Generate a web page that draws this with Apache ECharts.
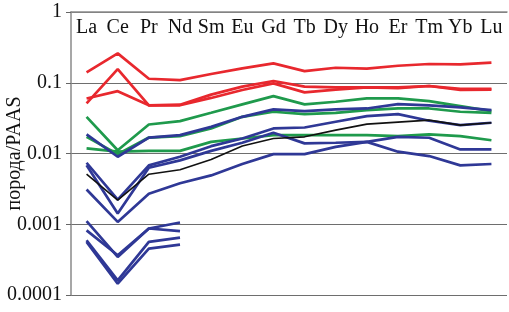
<!DOCTYPE html>
<html>
<head>
<meta charset="utf-8">
<script src="https://cdn.jsdelivr.net/npm/echarts@6/dist/echarts.min.js"></script>
<style>
  html, body { margin: 0; padding: 0; background: #fff; }
  #ReeChart { width: 509px; height: 312px; }
</style>
</head>
<body>
<div id="ReeChart"></div>
<script>
var elements = ["La", "Ce", "Pr", "Nd", "Sm", "Eu", "Gd", "Tb", "Dy", "Ho", "Er", "Tm", "Yb", "Lu"];
var yTickLabels = { 1: "1", 0.1: "0.1", 0.01: "0.01", 0.001: "0.001", 0.0001: "0.0001" };

// red samples
var red1 = [0.140, 0.260, 0.114, 0.109, 0.133, 0.160, 0.188, 0.146, 0.163, 0.158, 0.174, 0.184, 0.182, 0.192];
var red2 = [0.051, 0.156, 0.048, 0.048, 0.061, 0.079, 0.098, 0.073, 0.080, 0.086, 0.084, 0.090, 0.079, 0.080];
var red3 = [0.060, 0.076, 0.048, 0.049, 0.068, 0.088, 0.106, 0.088, 0.086, 0.086, 0.086, 0.090, 0.082, 0.082];

// green samples
var green1 = [0.033, 0.0111, 0.0257, 0.0287, 0.0376, 0.0494, 0.0648, 0.0494, 0.0539, 0.060, 0.060, 0.055, 0.0468, 0.0397];
var green2 = [0.0118, 0.0106, 0.0109, 0.0109, 0.0146, 0.0163, 0.0182, 0.0182, 0.0182, 0.0182, 0.0176, 0.0186, 0.0176, 0.0154];
var green3 = [0.0172, 0.0098, 0.0168, 0.0176, 0.0226, 0.033, 0.0389, 0.036, 0.0376, 0.041, 0.0433, 0.0433, 0.0389, 0.0376];

// blue samples
var blue1 = [0.0186, 0.0090, 0.0168, 0.0182, 0.0238, 0.033, 0.042, 0.0397, 0.042, 0.0433, 0.050, 0.048, 0.0448, 0.041];
var blue2 = [0.0074, 0.00223, 0.0068, 0.0090, 0.0127, 0.0163, 0.0226, 0.0233, 0.0281, 0.0338, 0.0360, 0.0290, 0.0252, 0.0272];
var blue3 = [0.0068, 0.00142, 0.0063, 0.0080, 0.0109, 0.0142, 0.0196, 0.0139, 0.0142, 0.0146, 0.0106, 0.0092, 0.0068, 0.0071];
var blue4 = [0.0031, 0.00108, 0.0027, 0.0038, 0.0049, 0.0071, 0.0098, 0.0098, 0.0124, 0.0146, 0.0172, 0.0167, 0.0114, 0.0114];
var blue5 = [0.00111, 0.000345, 0.00087, 0.00106];
var blue6 = [0.00082, 0.000364, 0.00087, 0.00080];
var blue7 = [0.000594, 0.000161, 0.000562, 0.000647];
var blue8 = [0.000562, 0.000145, 0.000453, 0.000516];

// black sample
var black1 = [0.0051, 0.00219, 0.0051, 0.0059, 0.0082, 0.0128, 0.0163, 0.0172, 0.0214, 0.0260, 0.0278, 0.0296, 0.0252, 0.0272];

var RED = "#e8282e", GREEN = "#1f9a4c", BLUE = "#2f3896", BLACK = "#111111";
var SERIF = "'Liberation Serif', 'Times New Roman', serif";

function line(data, color, width) {
  return {
    type: "line",
    data: data,
    symbol: "none",
    silent: true,
    lineStyle: { color: color, width: width || 2.7 }
  };
}

var chartDom = document.getElementById("ReeChart");
var myChart = echarts.init(chartDom);
var option = {
  animation: false,
  grid: { left: 71, right: 2, top: 12, bottom: 17, outerBoundsMode: "none", containLabel: false },
  xAxis: {
    type: "category",
    position: "top",
    data: elements,
    axisLine: { lineStyle: { color: "#8a8a8a", width: 1.5 } },
    axisTick: { inside: true, length: 4, lineStyle: { color: "#8a8a8a" } },
    axisLabel: { inside: true, interval: 0, margin: 6, color: "#111", fontFamily: SERIF, fontSize: 20 },
    splitLine: { show: false }
  },
  yAxis: {
    type: "log",
    logBase: 10,
    min: 0.0001,
    max: 1,
    name: "порода/PAAS",
    nameLocation: "middle",
    nameRotate: 90,
    nameGap: 46,
    nameMoveOverlap: false,
    nameTextStyle: { color: "#111", fontFamily: SERIF, fontSize: 20 },
    axisLine: { show: true, lineStyle: { color: "#8a8a8a", width: 1.5 } },
    axisTick: { show: true, length: 5, lineStyle: { color: "#666" } },
    axisLabel: {
      color: "#111",
      fontFamily: SERIF,
      fontSize: 20,
      margin: 9,
      formatter: function (v) {
        var k = Number(v.toPrecision(3));
        return yTickLabels[k] !== undefined ? yTickLabels[k] : "";
      }
    },
    splitLine: { show: true, lineStyle: { color: "#6e6e6e", width: 1 } }
  },
  series: [
    line(red1, RED), line(red2, RED), line(red3, RED),
    line(green1, GREEN), line(green2, GREEN), line(green3, GREEN),
    line(blue1, BLUE), line(blue2, BLUE), line(blue3, BLUE), line(blue4, BLUE),
    line(blue5, BLUE), line(blue6, BLUE), line(blue7, BLUE), line(blue8, BLUE),
    line(black1, BLACK, 1.6)
  ]
};

option && myChart.setOption(option);
</script>
</body>
</html>
